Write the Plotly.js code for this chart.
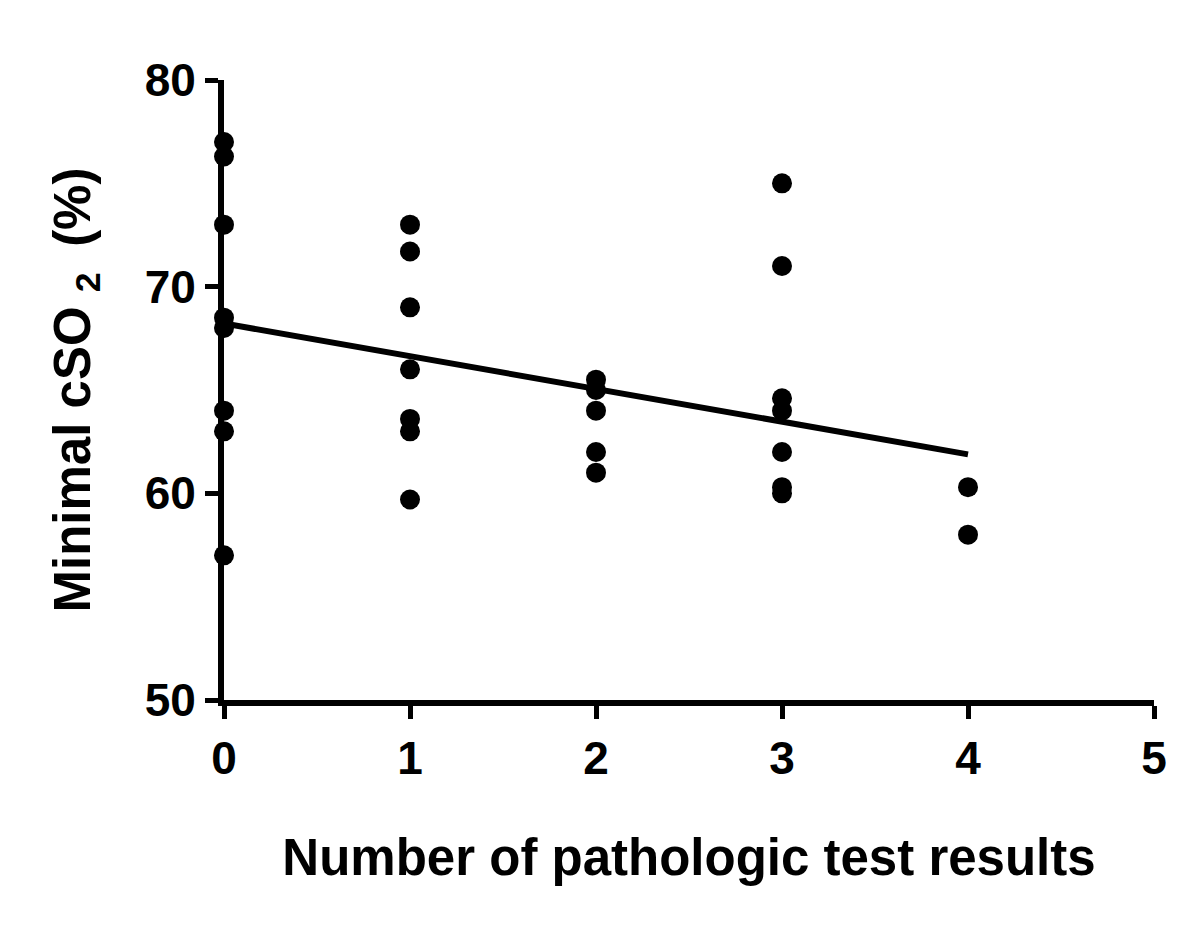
<!DOCTYPE html>
<html>
<head>
<meta charset="utf-8">
<script src="https://cdn.plot.ly/plotly-3.0.1.min.js"></script>
<style>
  html, body { margin: 0; padding: 0; background: #fff; }
  #chart { width: 1200px; height: 928px; }
</style>
</head>
<body>
<div id="chart"></div>
<script>
// Number of pathologic test results (x) and minimal cSO2 (%) values (y)
const x0 = [0, 0, 0, 0, 0, 0, 0, 0];
const y0 = [77.0, 76.3, 73.0, 68.5, 68.0, 64.0, 63.0, 57.0];
const x1 = [1, 1, 1, 1, 1, 1, 1];
const y1 = [73.0, 71.7, 69.0, 66.0, 63.6, 63.0, 59.7];
const x2 = [2, 2, 2, 2, 2];
const y2 = [65.5, 65.0, 64.0, 62.0, 61.0];
const x3 = [3, 3, 3, 3, 3, 3, 3];
const y3 = [75.0, 71.0, 64.6, 64.0, 62.0, 60.3, 60.0];
const x4 = [4, 4];
const y4 = [60.3, 58.0];

const xTicks = [0, 1, 2, 3, 4, 5];
const yTicks = [50, 60, 70, 80];

const xs = [].concat(x0, x1, x2, x3, x4);
const ys = [].concat(y0, y1, y2, y3, y4);

// Linear regression fitted from the data
const n = xs.length;
const mx = xs.reduce((a, b) => a + b, 0) / n;
const my = ys.reduce((a, b) => a + b, 0) / n;
let sxy = 0, sxx = 0;
for (let i = 0; i < n; i++) { sxy += (xs[i] - mx) * (ys[i] - my); sxx += (xs[i] - mx) ** 2; }
const slope = sxy / sxx;
const intercept = my - slope * mx;
const fitX = [Math.min(...xs), Math.max(...xs)];
const fitY = fitX.map(v => intercept + slope * v);

const FONT = 'Arial, "Liberation Sans", sans-serif';

const traces = [
  {
    x: fitX, y: fitY, type: 'scatter', mode: 'lines',
    line: { color: '#000', width: 6 }, hoverinfo: 'skip', showlegend: false
  },
  {
    x: xs, y: ys, type: 'scatter', mode: 'markers',
    marker: { color: '#000', size: 20, line: { width: 0 } },
    showlegend: false, cliponaxis: false
  }
];

const layout = {
  width: 1200, height: 928,
  paper_bgcolor: '#fff', plot_bgcolor: '#fff',
  margin: { l: 224, r: 46, t: 80, b: 228 },
  showlegend: false,
  font: { family: FONT, color: '#000' },
  xaxis: {
    range: [0, 5], tickvals: xTicks, ticktext: xTicks.map(String),
    showgrid: false, zeroline: false,
    showline: true, linecolor: '#000', linewidth: 6,
    ticks: 'outside', ticklen: 13, tickwidth: 5, tickcolor: '#000',
    tickfont: { family: FONT, size: 46, color: '#000', weight: 'bold' },
    title: { text: '<b>Number of pathologic test results</b>', font: { family: FONT, size: 51, color: '#000' }, standoff: 58 },
    automargin: false, fixedrange: true
  },
  yaxis: {
    range: [50, 80], tickvals: yTicks, ticktext: yTicks.map(String),
    showgrid: false, zeroline: false,
    showline: true, linecolor: '#000', linewidth: 6,
    ticks: 'outside', ticklen: 13, tickwidth: 5, tickcolor: '#000',
    tickfont: { family: FONT, size: 46, color: '#000', weight: 'bold' },
    title: { text: '<b>Minimal cSO <sub>2</sub>\u2002(%)</b>', font: { family: FONT, size: 51, color: '#000' }, standoff: 40 },
    automargin: false, fixedrange: true
  }
};

Plotly.newPlot('chart', traces, layout, { displayModeBar: false, staticPlot: true });
</script>
</body>
</html>
